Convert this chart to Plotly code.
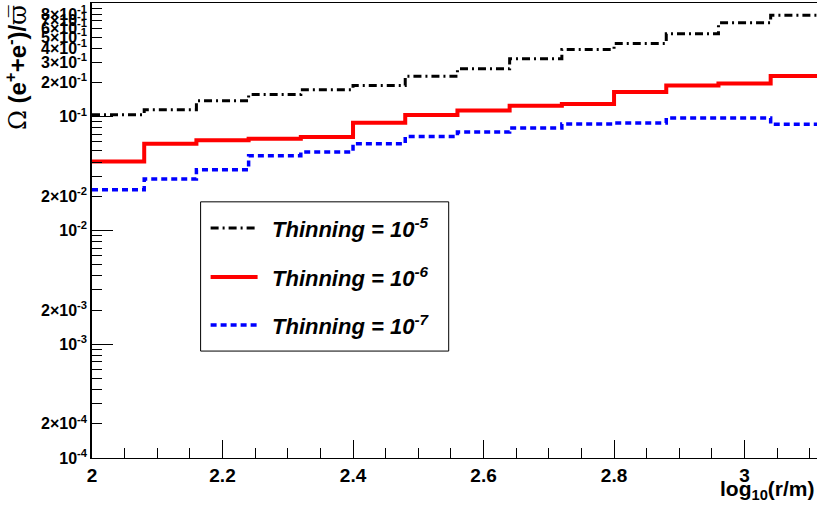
import math
import plotly.graph_objects as go

# ---- data ----
bin_edges = [2.00, 2.08, 2.16, 2.24, 2.32, 2.40, 2.48, 2.56, 2.64, 2.72, 2.80, 2.88, 2.96, 3.04, 3.12]
thin_1e5 = [0.104, 0.1155, 0.138, 0.157, 0.173, 0.188, 0.227, 0.264, 0.323, 0.390, 0.440, 0.536, 0.669, 0.781]
thin_1e6 = [0.0405, 0.058, 0.062, 0.0642, 0.0664, 0.0887, 0.1037, 0.1132, 0.1252, 0.1296, 0.1653, 0.1878, 0.1956, 0.2287]
thin_1e7 = [0.0228, 0.02835, 0.0342, 0.0455, 0.049, 0.058, 0.0671, 0.0735, 0.0797, 0.0864, 0.0881, 0.0976, 0.0976, 0.0857]
series_names = ["Thinning = 10<sup>-5</sup>", "Thinning = 10<sup>-6</sup>", "Thinning = 10<sup>-7</sup>"]
x_ticks = [2, 2.2, 2.4, 2.6, 2.8, 3]
x_ticktext = ["2", "2.2", "2.4", "2.6", "2.8", "3"]
decades = [1e-4, 1e-3, 1e-2, 1e-1, 1]

FONT = "Liberation Sans, Arial, sans-serif"

styles = [
    dict(color="black", width=3, dash="8px,4px,2px,4px"),
    dict(color="#ff0000", width=4, dash="solid"),
    dict(color="#0000ff", width=3.5, dash="6px,4px"),
]

fig = go.Figure()
for vals, st, nm in zip([thin_1e5, thin_1e6, thin_1e7], styles, series_names):
    fig.add_trace(go.Scatter(
        x=bin_edges, y=vals + [vals[-1]], mode="lines", line_shape="hv",
        line=st, name=nm, showlegend=False, hoverinfo="skip"))

# y tick values / labels
y_tickvals, y_ticktext = [], []
for d in decades[:-1]:
    exp = int(round(math.log10(d)))
    for m in range(1, 10):
        y_tickvals.append(m * d)
        if m == 1:
            y_ticktext.append(f"10<sup>{exp}</sup>")
        elif m == 2 or exp == -1:
            y_ticktext.append(f"{m}×10<sup>{exp}</sup>")
        else:
            y_ticktext.append("")
y_tickvals.append(1)
y_ticktext.append("1")

# dummy trace for overlay axis carrying long decade ticks
fig.add_trace(go.Scatter(x=[2.5], y=[0.001], yaxis="y2", mode="markers",
                         marker=dict(opacity=0), showlegend=False, hoverinfo="skip"))

fig.update_layout(
    width=817, height=512,
    margin=dict(l=92, r=0, t=3, b=54),
    plot_bgcolor="white", paper_bgcolor="white",
    font=dict(family=FONT, color="black"),
    xaxis=dict(range=[2, 3.111], showline=True, linecolor="black", linewidth=1, mirror=True,
               showgrid=False, zeroline=False, ticks="inside", ticklen=18, tickcolor="black",
               tickvals=x_ticks, ticktext=x_ticktext,
               tickfont=dict(family=FONT, size=19, weight="bold"),
               minor=dict(ticks="inside", ticklen=10, dtick=0.05, tick0=2, tickcolor="black", showgrid=False)),
    yaxis=dict(type="log", range=[-4, 0], showline=True, linecolor="black", linewidth=1.5,
               showgrid=False, zeroline=False, ticks="inside", ticklen=10, tickcolor="black",
               tickmode="array", tickvals=y_tickvals, ticktext=y_ticktext,
               tickfont=dict(family=FONT, size=16, weight="bold")),
    yaxis2=dict(type="log", range=[-4, 0], overlaying="y", side="left", showline=False,
                showgrid=False, zeroline=False, ticks="inside", ticklen=21, tickcolor="black",
                tickmode="array", tickvals=decades, showticklabels=False),
)

# y-axis title
fig.add_annotation(xref="paper", yref="paper", x=-0.104, y=1.0, xanchor="center", yanchor="top",
                   textangle=-90, showarrow=False,
                   text="<span style='font-family:DejaVu Serif;font-weight:normal'>Ω</span> (e<sup>+</sup>+e<sup>-</sup>)/<span style='font-family:DejaVu Serif;font-weight:normal'>ϖ̅</span>",
                   font=dict(family=FONT, size=24, weight="bold"))
# x-axis title
fig.add_annotation(xref="paper", yref="paper", x=1.0, y=-0.071, xanchor="right", yanchor="middle",
                   showarrow=False, text="log<sub>10</sub>(r/m)",
                   font=dict(family=FONT, size=21, weight="bold"))

# legend box (manual)
fig.add_shape(type="rect", xref="paper", yref="paper", x0=0.1498, x1=0.492, y0=0.235, y1=0.563,
              line=dict(color="black", width=1), fillcolor="white", layer="above")
entry_y = [0.5055, 0.3978, 0.2923]
for yy, st, nm in zip(entry_y, styles, series_names):
    fig.add_shape(type="line", xref="paper", yref="paper", x0=0.1636, x1=0.2284, y0=yy, y1=yy,
                  line=st, layer="above")
    fig.add_annotation(xref="paper", yref="paper", x=0.245, y=yy, xanchor="left", yanchor="middle",
                       showarrow=False, text=nm,
                       font=dict(family=FONT, size=22, weight="bold", style="italic"))

fig.write_html("out.html")
